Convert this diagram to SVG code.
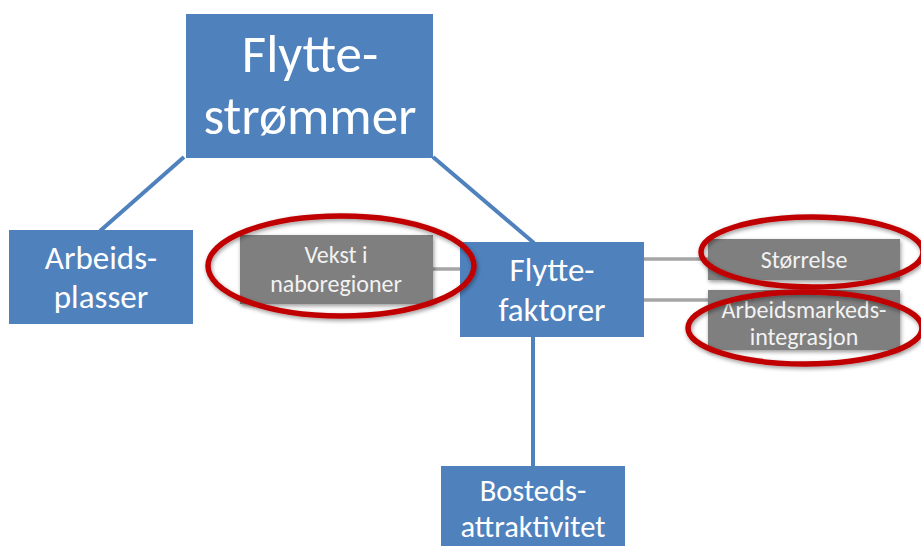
<svg xmlns="http://www.w3.org/2000/svg" width="921" height="546" viewBox="0 0 921 546">
<defs>
<filter id="sh" x="-20%" y="-30%" width="140%" height="160%">
<feGaussianBlur in="SourceAlpha" stdDeviation="2"/>
<feOffset dx="1" dy="2" result="b"/>
<feComponentTransfer><feFuncA type="linear" slope="0.4"/></feComponentTransfer>
<feMerge><feMergeNode/><feMergeNode in="SourceGraphic"/></feMerge>
</filter>
</defs>
<style>
.blue{fill:#4F81BD}
.grey{fill:#7F7F7F}
.bt{fill:#FFFFFF;font-family:Carlito,"Liberation Sans",Arial,sans-serif;text-anchor:middle}
.gt{fill:#F2F2F2;font-family:Carlito,"Liberation Sans",Arial,sans-serif;text-anchor:middle;font-size:24px}
.bl{stroke:#4F81BD;stroke-width:4;fill:none}
.gl{stroke:#A5A5A5;stroke-width:3.5;fill:none}
.ring{fill:none;stroke:#C00000;stroke-width:5.5;filter:url(#sh)}
</style>
<rect width="921" height="546" fill="#FFFFFF"/>
<g id="connectors">
<line class="bl" x1="184" y1="157" x2="100" y2="231"/>
<line class="bl" x1="433" y1="157" x2="534" y2="243"/>
<line class="bl" x1="533" y1="337" x2="533" y2="467"/>
<line class="gl" x1="433" y1="269" x2="461" y2="269"/>
<line class="gl" x1="643" y1="259" x2="709" y2="259"/>
<line class="gl" x1="643" y1="300" x2="709" y2="300"/>
</g>
<g id="flyttestrommer">
<rect class="blue" x="186" y="14" width="247" height="144"/>
<text class="bt" x="310" y="72" font-size="53">Flytte-</text>
<text class="bt" x="310" y="134" font-size="53">strømmer</text>
</g>
<g id="arbeidsplasser">
<rect class="blue" x="9" y="230" width="184" height="94"/>
<text class="bt" x="101" y="269" font-size="33">Arbeids-</text>
<text class="bt" x="101" y="308" font-size="33">plasser</text>
</g>
<g id="vekst">
<rect class="grey" x="240" y="235" width="193" height="69" filter="url(#sh)"/>
<text class="gt" x="336" y="263">Vekst i</text>
<text class="gt" x="336" y="292">naboregioner</text>
</g>
<g id="flyttefaktorer">
<rect class="blue" x="460" y="242" width="184" height="95"/>
<text class="bt" x="552" y="281" font-size="33">Flytte-</text>
<text class="bt" x="552" y="321" font-size="33">faktorer</text>
</g>
<g id="storrelse">
<rect class="grey" x="708" y="239" width="192" height="41" filter="url(#sh)"/>
<text class="gt" x="804" y="268">Størrelse</text>
</g>
<g id="arbeidsmarkeds">
<rect class="grey" x="708" y="290" width="192" height="60" filter="url(#sh)"/>
<text class="gt" x="804" y="318">Arbeidsmarkeds-</text>
<text class="gt" x="804" y="345">integrasjon</text>
</g>
<g id="bosteds">
<rect class="blue" x="441" y="466" width="184" height="84"/>
<text class="bt" x="533" y="501" font-size="30.5">Bosteds-</text>
<text class="bt" x="533" y="537" font-size="30.5">attraktivitet</text>
</g>
<g id="highlights">
<ellipse class="ring" cx="341" cy="266" rx="133" ry="50"/>
<ellipse class="ring" cx="812" cy="252" rx="111" ry="35"/>
<ellipse class="ring" cx="805" cy="328" rx="117" ry="36"/>
</g>
</svg>
